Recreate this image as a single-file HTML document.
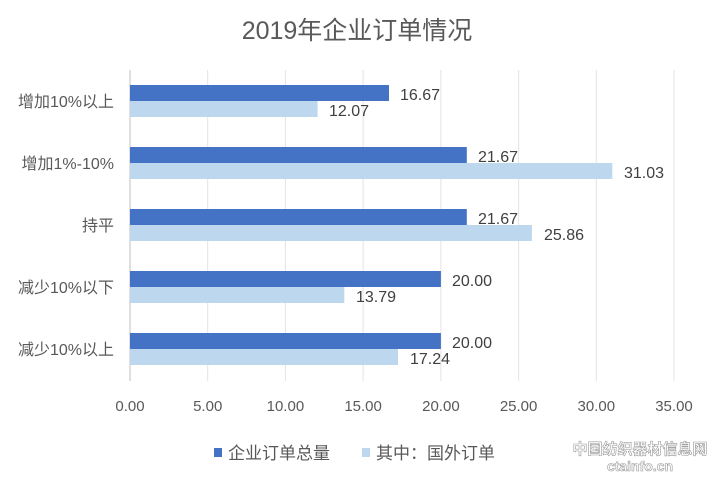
<!DOCTYPE html><html><head><meta charset="utf-8"><style>body{margin:0;background:#fff}svg text{font-family:"Liberation Sans","Noto Sans CJK SC",sans-serif}</style></head><body>
<svg width="715" height="477" xmlns="http://www.w3.org/2000/svg">
<rect width="715" height="477" fill="#fff"/>
<text x="357" y="39" font-size="25" fill="#595959" text-anchor="middle">2019年企业订单情况</text>
<g stroke="#e3e3e3" stroke-width="1">
<line x1="207.7" y1="70" x2="207.7" y2="381"/><line x1="285.4" y1="70" x2="285.4" y2="381"/><line x1="363.1" y1="70" x2="363.1" y2="381"/><line x1="440.9" y1="70" x2="440.9" y2="381"/><line x1="518.6" y1="70" x2="518.6" y2="381"/><line x1="596.3" y1="70" x2="596.3" y2="381"/><line x1="674" y1="70" x2="674" y2="381"/>
</g>
<line x1="130" y1="70" x2="130" y2="381" stroke="#bfbfbf"/>
<g fill="#4472C4">
<rect x="130" y="85" width="259" height="16"/><rect x="130" y="147" width="336.8" height="16"/><rect x="130" y="209" width="336.8" height="16"/><rect x="130" y="271" width="310.9" height="16"/><rect x="130" y="333" width="310.9" height="16"/>
</g>
<g fill="#BDD7EE">
<rect x="130" y="101" width="187.6" height="16"/><rect x="130" y="163" width="482.3" height="16"/><rect x="130" y="225" width="401.9" height="16"/><rect x="130" y="287" width="214.3" height="16"/><rect x="130" y="349" width="268" height="16"/>
</g>
<g font-size="16" fill="#404040">
<text x="400" y="100">16.67</text><text x="329" y="116">12.07</text>
<text x="478" y="162">21.67</text><text x="624" y="178">31.03</text>
<text x="478" y="224">21.67</text><text x="544" y="240">25.86</text>
<text x="452" y="286">20.00</text><text x="356" y="302">13.79</text>
<text x="452" y="348">20.00</text><text x="410" y="364">17.24</text>
</g>
<g font-size="16" fill="#595959" text-anchor="end">
<text x="114" y="107">增加10%以上</text><text x="114" y="169">增加1%-10%</text><text x="114" y="231">持平</text><text x="114" y="293">减少10%以下</text><text x="114" y="355">减少10%以上</text>
</g>
<g font-size="15" fill="#595959" text-anchor="middle">
<text x="130" y="411">0.00</text><text x="207.7" y="411">5.00</text><text x="285.4" y="411">10.00</text><text x="363.1" y="411">15.00</text><text x="440.9" y="411">20.00</text><text x="518.6" y="411">25.00</text><text x="596.3" y="411">30.00</text><text x="674" y="411">35.00</text>
</g>
<rect x="214" y="448" width="8" height="9" fill="#4472C4"/>
<text x="228" y="459" font-size="17" fill="#595959">企业订单总量</text>
<rect x="362" y="448" width="8" height="9" fill="#BDD7EE"/>
<text x="376" y="459" font-size="17" fill="#595959">其中：国外订单</text>
<text x="640" y="454" font-size="15" font-weight="bold" fill="#fff" stroke="#999" stroke-width="0.6" text-anchor="middle">中国纺织器材信息网</text>
<text x="640" y="471" font-size="14" font-weight="bold" fill="#fff" stroke="#999" stroke-width="0.6" text-anchor="middle">ctainfo.cn</text>
</svg></body></html>
